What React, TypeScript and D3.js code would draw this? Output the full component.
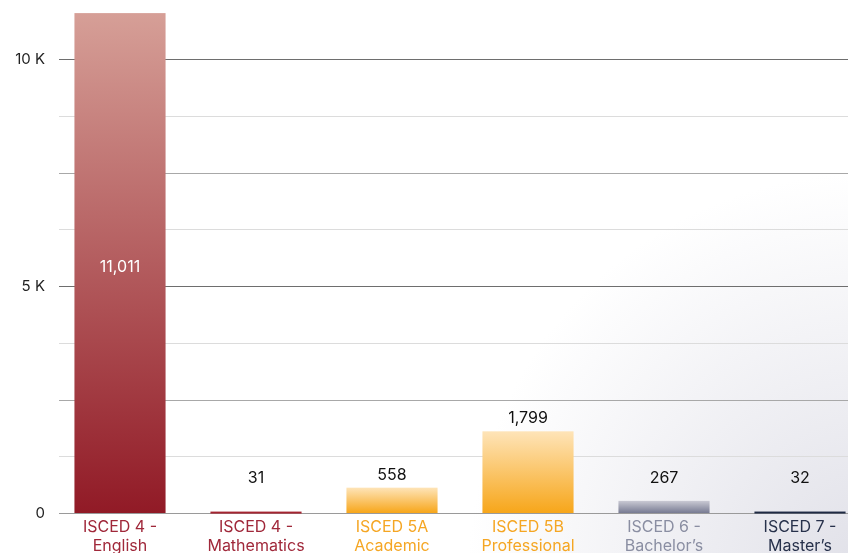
import { useEffect, useRef } from 'react';
import * as d3 from 'd3';

// ── data ──
const categories = ['ISCED 4 - English', 'ISCED 4 - Mathematics', 'ISCED 5A Academic', 'ISCED 5B Professional', 'ISCED 6 - Bachelor\u2019s', 'ISCED 7 - Master\u2019s'];
const labelLines = [['ISCED 4 -', 'English'], ['ISCED 4 -', 'Mathematics'], ['ISCED 5A', 'Academic'], ['ISCED 5B', 'Professional'], ['ISCED 6 -', 'Bachelor\u2019s'], ['ISCED 7 -', 'Master\u2019s']];
const values = [11011, 31, 558, 1799, 267, 32];
const tickValues = [0, 5000, 10000];
const tickLabels = ['0', '5 K', '10 K'];

const W = 848, H = 553;
const font = "Inter, 'Noto Sans', sans-serif";

// per-bar gradient top/bottom + label colour
const PAL = [
  { top: '#d69f97', bot: '#911a26', text: '#a0283a' },
  { top: '#a52531', bot: '#a52531', text: '#a0283a' },
  { top: '#fee4b8', bot: '#f7a61a', text: '#f5a623' },
  { top: '#fee4b8', bot: '#f7a61a', text: '#f5a623' },
  { top: '#c9c9d3', bot: '#777a92', text: '#8a8ea2' },
  { top: '#1f2a44', bot: '#1f2a44', text: '#27314b' },
];

export default function App() {
  const ref = useRef<SVGSVGElement>(null);

  useEffect(() => {
    const svg = d3.select(ref.current);
    svg.selectAll('*').remove();

    const x = d3.scaleBand<string>().domain(categories).range([52, 868]).paddingInner(0.33).paddingOuter(0.165);
    const y = d3.scaleLinear().domain([0, 10000]).range([513, 59]);

    const defs = svg.append('defs');
    const bg = defs.append('radialGradient').attr('id', 'bg')
      .attr('gradientUnits', 'userSpaceOnUse').attr('cx', W + 20).attr('cy', H + 20).attr('r', 400);
    bg.append('stop').attr('offset', '0%').attr('stop-color', '#e0e0e8');
    bg.append('stop').attr('offset', '100%').attr('stop-color', '#ffffff');

    PAL.forEach((p, i) => {
      const g = defs.append('linearGradient').attr('id', `bar${i}`).attr('x1', 0).attr('y1', 0).attr('x2', 0).attr('y2', 1);
      g.append('stop').attr('offset', '0%').attr('stop-color', p.top);
      g.append('stop').attr('offset', '100%').attr('stop-color', p.bot);
    });

    svg.append('rect').attr('width', W).attr('height', H).attr('fill', 'url(#bg)');

    // grid: minor every 1250, major every 2500, labelled every 5000
    const gridVals = d3.range(0, 10001, 1250);
    svg.append('g').selectAll('line').data(gridVals).join('line')
      .attr('x1', 59).attr('x2', W)
      .attr('y1', d => Math.round(y(d)) + 0.5).attr('y2', d => Math.round(y(d)) + 0.5)
      .attr('stroke', d => d % 5000 === 0 ? (d === 0 ? '#9a9a9a' : '#6e6e6e') : d % 2500 === 0 ? '#a8a8a8' : '#dcdcdc')
      .attr('stroke-width', 1);

    // y tick labels
    svg.append('g').selectAll('text').data(tickValues).join('text')
      .attr('x', 45).attr('y', d => y(d) + 5)
      .attr('text-anchor', 'end').attr('font-family', font).attr('font-size', 15).attr('fill', '#222')
      .text((d, i) => tickLabels[i]);

    // bars
    svg.append('g').selectAll('rect').data(values).join('rect')
      .attr('x', (d, i) => x(categories[i])!)
      .attr('width', x.bandwidth())
      .attr('y', d => y(d))
      .attr('height', d => Math.max(2, y(0) - y(d)))
      .attr('fill', (d, i) => `url(#bar${i})`);

    // value labels
    svg.append('g').selectAll('text').data(values).join('text')
      .attr('x', (d, i) => x(categories[i])! + x.bandwidth() / 2)
      .attr('y', d => d > 5000 ? (y(d) + y(0)) / 2 + 9 : Math.min(y(d) - 8, 483))
      .attr('text-anchor', 'middle').attr('font-family', font).attr('font-size', 16)
      .attr('fill', d => d > 5000 ? '#fff' : '#111')
      .text(d => d3.format(',')(d));

    // category labels
    const cat = svg.append('g').selectAll('text').data(labelLines).join('text')
      .attr('text-anchor', 'middle').attr('font-family', font).attr('font-size', 16)
      .attr('fill', (d, i) => PAL[i].text)
      .attr('x', (d, i) => x(categories[i])! + x.bandwidth() / 2);
    cat.selectAll('tspan').data(d => d).join('tspan')
      .attr('x', function () { return (this.parentNode as SVGTextElement).getAttribute('x'); })
      .attr('y', (d, j) => 532 + j * 19)
      .text(d => d);
  }, []);

  return (
    <div style={{ position: 'fixed', left: 0, top: 0 }}>
      <svg ref={ref} width={W} height={H} style={{ display: 'block' }} />
    </div>
  );
}
